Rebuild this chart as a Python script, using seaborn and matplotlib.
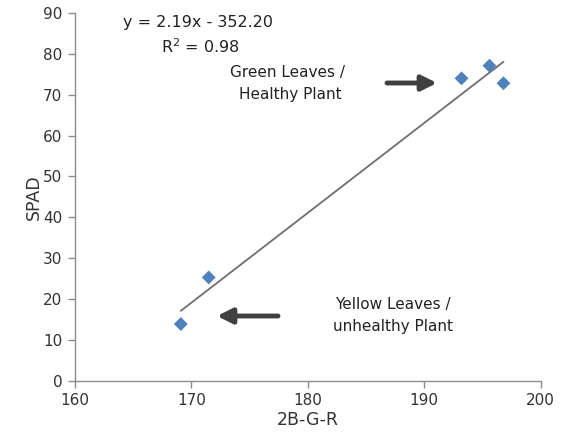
import numpy as np
import pandas as pd
import matplotlib
matplotlib.use("Agg")
import matplotlib.pyplot as plt
import seaborn as sns

# Data
x_vals = [169.1, 171.5, 193.2, 195.6, 196.8]
spad_vals = [13.9, 25.3, 74.0, 77.1, 72.8]
x_ticks = [160, 170, 180, 190, 200]
y_ticks = [0, 10, 20, 30, 40, 50, 60, 70, 80, 90]
equation_text = "y = 2.19x - 352.20"
r2_text = "R$^2$ = 0.98"

df = pd.DataFrame({"2B-G-R": x_vals, "SPAD": spad_vals})

sns.set_style("white")
plt.rcParams['font.family'] = ['DejaVu Sans']
plt.rcParams['mathtext.default'] = 'regular'

fig = plt.figure(figsize=(5.71, 4.46), dpi=100)
ax = fig.add_axes([0.131, 0.146, 0.816, 0.825])

sns.regplot(data=df, x="2B-G-R", y="SPAD", ax=ax, ci=None, marker="D",
            scatter_kws=dict(s=50, color="#4F81BD", edgecolor="none", alpha=1, zorder=3),
            line_kws=dict(color="#6e6e6e", lw=1.3, zorder=2))

ax.set_xlim(160, 200)
ax.set_ylim(0, 90)
ax.set_xticks(x_ticks)
ax.set_yticks(y_ticks)
for s in ["top", "right"]:
    ax.spines[s].set_visible(False)
for s in ["left", "bottom"]:
    ax.spines[s].set_color("#8c8c8c")
    ax.spines[s].set_linewidth(1.0)
ax.tick_params(axis="both", direction="out", length=5, width=1, color="#8c8c8c",
               labelsize=11, labelcolor="#333333", pad=4, left=True, bottom=True)
ax.set_xlabel("2B-G-R", fontsize=12.5, color="#333333", labelpad=2)
ax.set_ylabel("SPAD", fontsize=12.5, color="#333333", labelpad=0)

# Trendline equation
fig.text(198/571, 1-22/446, equation_text, ha="center", va="center", fontsize=11.5, color="#222222")
fig.text(200/571, 1-47/446, r2_text, ha="center", va="center", fontsize=11.5, color="#222222")

# Annotations
txt_kw = dict(ha="center", va="center", fontsize=11, color="#222222")
fig.text(288/571, 1-72/446, "Green Leaves /", **txt_kw)
fig.text(290/571, 1-95/446, "Healthy Plant", **txt_kw)
fig.text(393/571, 1-305/446, "Yellow Leaves /", **txt_kw)
fig.text(393/571, 1-327/446, "unhealthy Plant", **txt_kw)

arrowprops = dict(arrowstyle="-|>,head_length=0.9,head_width=0.45", color="#404040", lw=3.5,
                  shrinkA=0, shrinkB=0)
ax.annotate("", xy=(437/571, 1-83/446), xytext=(387/571, 1-83/446),
            xycoords="figure fraction", textcoords="figure fraction", arrowprops=arrowprops)
ax.annotate("", xy=(217/571, 1-316/446), xytext=(278/571, 1-316/446),
            xycoords="figure fraction", textcoords="figure fraction", arrowprops=arrowprops)

fig.savefig("out.png", dpi=100)
